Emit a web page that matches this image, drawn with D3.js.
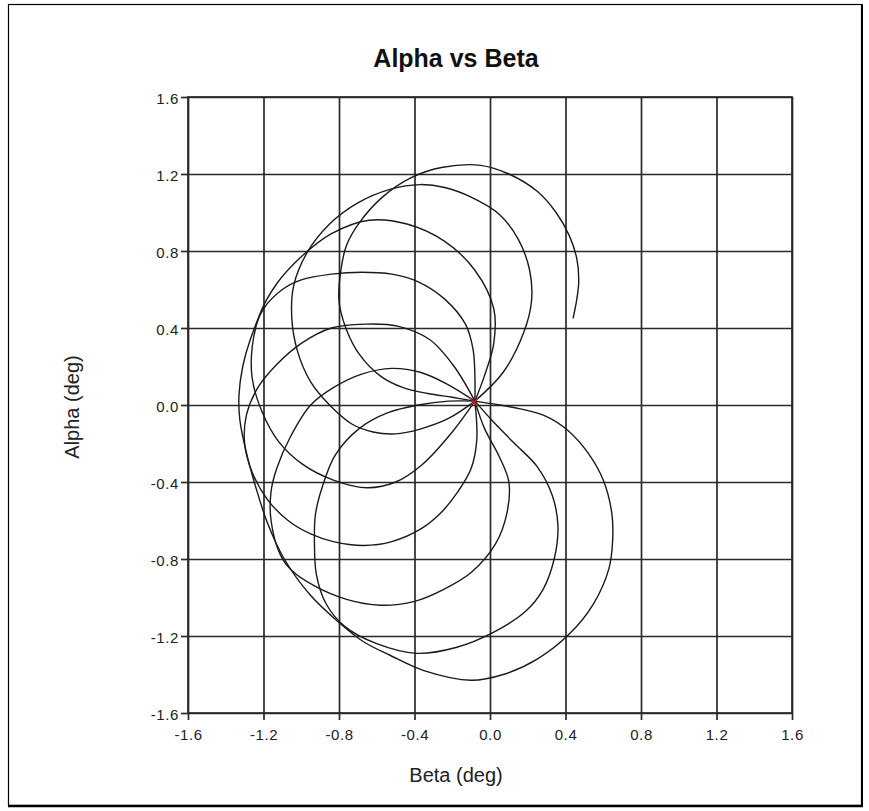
<!DOCTYPE html>
<html>
<head>
<meta charset="utf-8">
<script src="https://cdn.jsdelivr.net/npm/d3@7"></script>
<style>
  html, body { margin: 0; padding: 0; background: #ffffff; }
  svg { display: block; }
</style>
</head>
<body>
<svg id="chart" width="869" height="811"></svg>
<script>
// ---- Data (beta, alpha in degrees) ----
const title = "Alpha vs Beta";
const xLabel = "Beta (deg)";
const yLabel = "Alpha (deg)";
const tickValues = [-1.6, -1.2, -0.8, -0.4, 0.0, 0.4, 0.8, 1.2, 1.6];

// Loops of the trajectory in time order; every loop starts and ends at the common point.
const loop1 = [[-0.08,0.02],[0.05,0.0],[0.16,-0.02],[0.3,-0.06],[0.41,-0.13],[0.52,-0.25],[0.6,-0.39],[0.645,-0.56],[0.65,-0.7],[0.63,-0.85],[0.55,-1.03],[0.42,-1.19],[0.25,-1.32],[0.07,-1.4],[-0.1,-1.43],[-0.35,-1.38],[-0.53,-1.3],[-0.67,-1.23],[-0.8,-1.13],[-0.95,-0.99],[-1.09,-0.8],[-1.18,-0.61],[-1.24,-0.43],[-1.29,-0.25],[-1.325,-0.08],[-1.33,0.05],[-1.31,0.2],[-1.27,0.34],[-1.2,0.5],[-1.1,0.6],[-1.0,0.65],[-0.84,0.68],[-0.68,0.69],[-0.52,0.68],[-0.38,0.64],[-0.24,0.55],[-0.13,0.42],[-0.09,0.29],[-0.08,0.15],[-0.08,0.02]];
const loop2 = [[-0.08,0.02],[0.02,-0.09],[0.13,-0.2],[0.25,-0.32],[0.33,-0.47],[0.36,-0.63],[0.34,-0.8],[0.28,-0.96],[0.19,-1.07],[0.02,-1.18],[-0.18,-1.26],[-0.39,-1.29],[-0.6,-1.24],[-0.77,-1.15],[-0.87,-1.03],[-0.92,-0.88],[-0.93,-0.72],[-0.925,-0.57],[-0.89,-0.43],[-0.82,-0.26],[-0.69,-0.12],[-0.54,-0.04],[-0.38,0.0],[-0.22,0.02],[-0.08,0.02]];
const loop3 = [[-0.08,0.02],[-0.03,-0.12],[0.05,-0.27],[0.1,-0.4],[0.09,-0.56],[0.03,-0.72],[-0.1,-0.87],[-0.25,-0.96],[-0.4,-1.02],[-0.58,-1.04],[-0.76,-1.01],[-0.93,-0.94],[-1.05,-0.86],[-1.11,-0.78],[-1.16,-0.6],[-1.16,-0.45],[-1.13,-0.33],[-1.06,-0.17],[-0.95,0.0],[-0.83,0.09],[-0.68,0.16],[-0.52,0.19],[-0.37,0.17],[-0.23,0.11],[-0.08,0.02]];
const loop4 = [[-0.08,0.02],[-0.07,-0.18],[-0.1,-0.33],[-0.17,-0.45],[-0.26,-0.56],[-0.36,-0.64],[-0.52,-0.71],[-0.67,-0.73],[-0.83,-0.71],[-0.95,-0.67],[-1.07,-0.6],[-1.18,-0.49],[-1.26,-0.35],[-1.3,-0.2],[-1.29,-0.05],[-1.23,0.09],[-1.13,0.21],[-1.0,0.32],[-0.84,0.4],[-0.66,0.42],[-0.49,0.41],[-0.32,0.34],[-0.19,0.2],[-0.08,0.02]];
const loop5 = [[-0.08,0.02],[-0.2,-0.14],[-0.36,-0.31],[-0.5,-0.4],[-0.65,-0.43],[-0.83,-0.39],[-0.99,-0.31],[-1.12,-0.19],[-1.21,-0.03],[-1.26,0.14],[-1.26,0.3],[-1.22,0.47],[-1.13,0.63],[-1.0,0.77],[-0.84,0.89],[-0.64,0.96],[-0.44,0.94],[-0.24,0.85],[-0.08,0.7],[0.02,0.5],[0.02,0.32],[-0.03,0.15],[-0.08,0.02]];
const loop6 = [[-0.08,0.02],[-0.22,-0.07],[-0.37,-0.125],[-0.5,-0.15],[-0.62,-0.14],[-0.73,-0.1],[-0.85,0.0],[-0.95,0.12],[-1.02,0.28],[-1.05,0.45],[-1.04,0.62],[-0.97,0.79],[-0.85,0.94],[-0.7,1.05],[-0.53,1.12],[-0.37,1.145],[-0.24,1.13],[-0.1,1.08],[0.05,0.99],[0.15,0.86],[0.21,0.7],[0.22,0.54],[0.18,0.38],[0.07,0.17],[-0.08,0.02]];
const loop7 = [[-0.08,0.02],[-0.2,0.04],[-0.33,0.06],[-0.46,0.09],[-0.58,0.15],[-0.69,0.26],[-0.76,0.39],[-0.8,0.54],[-0.79,0.7],[-0.76,0.83],[-0.69,0.95],[-0.57,1.08],[-0.42,1.18],[-0.25,1.235],[-0.05,1.245],[0.1,1.2],[0.25,1.11],[0.35,1.0],[0.42,0.88],[0.46,0.76],[0.47,0.64],[0.46,0.55],[0.44,0.45]];
const loops = [loop1, loop2, loop3, loop4, loop5, loop6, loop7];
const startPoint = [-0.085, 0.015];

// ---- Layout ----
const svg = d3.select("#chart");
const plot = { left: 188, right: 792, top: 97, bottom: 713 };
const x = d3.scaleLinear().domain([-1.6, 1.6]).range([plot.left, plot.right]);
const y = d3.scaleLinear().domain([-1.6, 1.6]).range([plot.bottom, plot.top]);
const ink = "#1a1a1a";
const fontFam = "'Liberation Sans', Arial, sans-serif";

// outer frame
svg.append("rect").attr("x", 8.5).attr("y", 4.5).attr("width", 853).attr("height", 801)
  .attr("fill", "none").attr("stroke", "#000").attr("stroke-width", 1.2);
svg.append("line").attr("x1", 8).attr("x2", 863).attr("y1", 806).attr("y2", 806)
  .attr("stroke", "#000").attr("stroke-width", 2.5);
svg.append("line").attr("x1", 862).attr("x2", 862).attr("y1", 4).attr("y2", 807)
  .attr("stroke", "#000").attr("stroke-width", 2);

// grid + axes
const fmt = d => d.toFixed(1);
const gx = svg.append("g").attr("transform", `translate(0,${plot.bottom})`)
  .call(d3.axisBottom(x).tickValues(tickValues).tickFormat(fmt)
    .tickSizeInner(-(plot.bottom - plot.top)).tickSizeOuter(0).tickPadding(0));
const gy = svg.append("g").attr("transform", `translate(${plot.left},0)`)
  .call(d3.axisLeft(y).tickValues(tickValues).tickFormat(fmt)
    .tickSizeInner(-(plot.right - plot.left)).tickSizeOuter(0).tickPadding(0));
[gx, gy].forEach(g => {
  g.select(".domain").remove();
  g.selectAll(".tick line").attr("stroke", "#2a2a2a").attr("stroke-width", 1.7);
  g.selectAll(".tick text").attr("fill", "#222").style("font-family", fontFam)
    .style("font-size", "15px").style("letter-spacing", "0.6px");
});
// short outside tick marks
gx.selectAll(".tick").append("line").attr("y1", 0).attr("y2", 7)
  .attr("stroke", "#2a2a2a").attr("stroke-width", 1.7);
gy.selectAll(".tick").append("line").attr("x1", 0).attr("x2", -7)
  .attr("stroke", "#2a2a2a").attr("stroke-width", 1.7);
gx.selectAll(".tick text").attr("y", 22).attr("dy", "0.32em");
gy.selectAll(".tick text").attr("x", -9).attr("dy", "0.4em");

// plot border
svg.append("rect").attr("x", plot.left).attr("y", plot.top)
  .attr("width", plot.right - plot.left).attr("height", plot.bottom - plot.top)
  .attr("fill", "none").attr("stroke", "#2a2a2a").attr("stroke-width", 1.7);

// trajectory
const line = d3.line().x(d => x(d[0])).y(d => y(d[1])).curve(d3.curveCatmullRom.alpha(0.5));
svg.append("g").selectAll("path").data(loops).join("path")
  .attr("d", line).attr("fill", "none").attr("stroke", ink)
  .attr("stroke-width", 1.4).attr("stroke-linejoin", "round");

// start marker
svg.append("path")
  .attr("d", d3.symbol().type(d3.symbolTimes).size(40)())
  .attr("transform", `translate(${x(startPoint[0])},${y(startPoint[1])})`)
  .attr("fill", "none").attr("stroke", "#c8202a").attr("stroke-width", 1.3);

// titles
svg.append("text").attr("x", 456).attr("y", 67).attr("text-anchor", "middle")
  .style("font-family", fontFam).style("font-size", "25px").style("font-weight", "bold")
  .attr("fill", "#111").text(title);
svg.append("text").attr("x", 456).attr("y", 782).attr("text-anchor", "middle")
  .style("font-family", fontFam).style("font-size", "20px").attr("fill", "#222").text(xLabel);
svg.append("text").attr("transform", "translate(79,407) rotate(-90)").attr("text-anchor", "middle")
  .style("font-family", fontFam).style("font-size", "20px").attr("fill", "#222").text(yLabel);
</script>
</body>
</html>
